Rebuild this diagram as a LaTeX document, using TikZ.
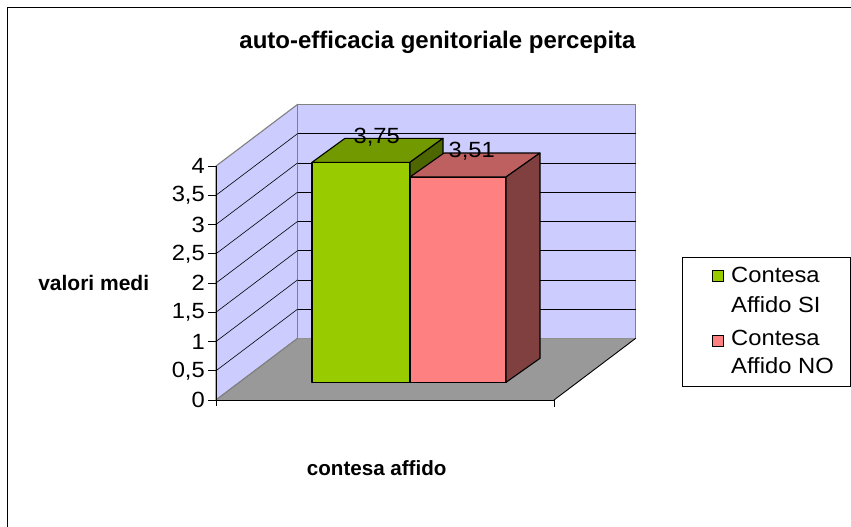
\documentclass[tikz,border=0pt]{standalone}
\usepackage{fontspec}
\setmainfont{Liberation Sans}
\newcommand{\fsz}[1]{\fontsize{#1}{#1}\selectfont}
\newcommand{\wx}[1]{\scalebox{1.08}[1]{#1}}
\definecolor{wallc}{HTML}{CCCCFF}
\definecolor{edgec}{HTML}{808080}
\definecolor{floorc}{HTML}{999999}
\definecolor{gfront}{HTML}{99CC00}
\definecolor{gtop}{HTML}{739900}
\definecolor{gside}{HTML}{4D6600}
\definecolor{rfront}{HTML}{FF8080}
\definecolor{rtop}{HTML}{BF6060}
\definecolor{rside}{HTML}{804040}
\begin{document}
\begin{tikzpicture}[x=1pt,y=-1pt,
  wall/.style={fill=wallc,draw=edgec,line width=1.1pt,line join=round},
  floorsty/.style={fill=floorc},
  gridl/.style={black,line width=0.6pt},
  axisl/.style={black,line width=0.9pt},
  barl/.style={draw=black,line width=1.1pt,line join=round},
  boldlbl/.style={inner sep=0pt,font=\bfseries},
  txt/.style={inner sep=0pt,font=\fsz{22}},
  legbox/.style={draw=black,line width=0.8pt,fill=white,minimum width=168pt,minimum height=128.7pt,inner sep=0pt},
  mark sq/.style={draw=black,line width=0.8pt,minimum size=11pt,inner sep=0pt}
]
\useasboundingbox (0,0) rectangle (851,527);
\fill[white] (0,0) rectangle (851,527);
% outer frame (left and top edges visible)
\draw[black,line width=1.3pt] (7.5,527) -- (7.5,7.8) -- (851,7.8);

% title
\node[boldlbl,font=\bfseries\fsz{24}] (title) at (437.5,42) {auto-efficacia genitoriale percepita};

% walls
\draw[wall] (216,166) -- (297.7,104.3) -- (297.7,338.3) -- (216,400) -- cycle;
\draw[wall] (297.7,104.3) rectangle (635.7,338.3);
% floor
\fill[floorsty] (216,400) -- (554,400) -- (635.7,338.3) -- (297.7,338.3) -- cycle;
\draw[black,line width=0.9pt] (554,400) -- (635.7,338.3);
\draw[edgec,line width=1.1pt] (297.7,338.3) -- (216,400);

% gridlines
\foreach \i in {1,...,7}{
  \draw[gridl] (297.7,338.3-29.25*\i) -- (635.7,338.3-29.25*\i);
  \draw[gridl] (216,400-29.25*\i) -- (297.7,338.3-29.25*\i);
}

% axes
\draw[axisl] (216,166) -- (216,400) -- (554,400);
\draw[axisl] (216,400) -- (216,406);
\draw[axisl] (554,400) -- (554,407);
\foreach \i/\t in {0/0,1/{0,5},2/1,3/{1,5},4/2,5/{2,5},6/3,7/{3,5},8/4}{
  \draw[axisl] (208,400-29.25*\i) -- (216,400-29.25*\i);
  \node[txt,anchor=east] (tk\i) at (205,400-29.25*\i) {\wx{\t}};
}

% green bar (3,75)
\draw[barl,fill=gfront] (312,162.3) rectangle (410,382.3);
\draw[barl,fill=gtop] (312,162.3) -- (410,162.3) -- (443,138.3) -- (345,138.3) -- cycle;
\draw[barl,fill=gside] (410,162.3) -- (443,138.3) -- (443,358.3) -- (410,382.3) -- cycle;
% red bar (3,51)
\draw[barl,fill=rfront] (410,177) rectangle (506,382.3);
\draw[barl,fill=rtop] (410,177) -- (506,177) -- (540,153) -- (444,153) -- cycle;
\draw[barl,fill=rside] (506,177) -- (540,153) -- (540,358.3) -- (506,382.3) -- cycle;

% value labels
\node[txt] (v1) at (376.7,137) {\wx{3,75}};
\node[txt] (v2) at (471.7,151) {\wx{3,51}};

% axis titles
\node[boldlbl,font=\bfseries\fsz{21}] (ylab) at (93.7,283) {valori medi};
\node[boldlbl,font=\bfseries\fsz{20.6}] (xlab) at (376.7,468) {contesa affido};

% legend
\node[legbox,anchor=north west] (leg) at (681.7,257.3) {};
\node[mark sq,fill=gfront] (m1) at (717.8,276.2) {};
\node[mark sq,fill=rfront] (m2) at (717.8,341.3) {};
\node[txt,anchor=west] (l1) at (731,275) {\wx{Contesa}};
\node[txt,anchor=west] (l2) at (731,305) {\wx{Affido SI}};
\node[txt,anchor=west] (l3) at (731,337.5) {\wx{Contesa}};
\node[txt,anchor=west] (l4) at (731,365.5) {\wx{Affido NO}};
\end{tikzpicture}
\end{document}
